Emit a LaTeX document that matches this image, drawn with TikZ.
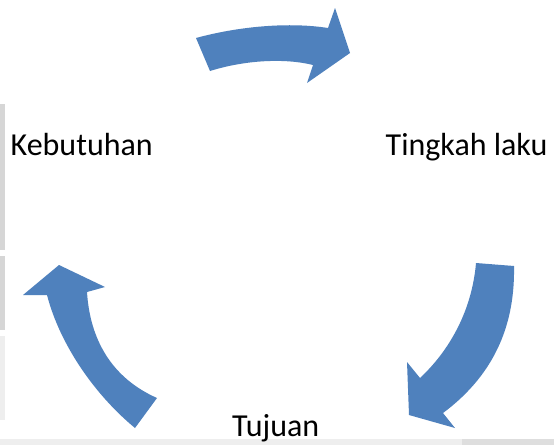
\documentclass[tikz,border=0pt]{standalone}
\usepackage{fontspec}
\setmainfont{Carlito}
\definecolor{arrowblue}{HTML}{4F81BD}
\definecolor{shadegray}{HTML}{D6D6D6}
\definecolor{shadelight}{HTML}{EEEEEE}
\begin{document}
\begin{tikzpicture}[x=1pt,y=-1pt,
  blockarrow/.style={fill=arrowblue,draw=none},
  label/.style={anchor=base west,inner sep=0pt,font=\fontsize{32}{38}\selectfont}]
\useasboundingbox (0,0) rectangle (554,445);
\fill[white] (0,0) rectangle (554,445);
% faint background artefacts
\fill[shadegray] (0,104) rectangle (5,250);
\fill[shadegray] (0,256) rectangle (5,330);
\fill[shadelight] (0,336) rectangle (5,420);
\fill[shadelight] (0,439) rectangle (554,445);
\fill[shadegray!80] (462,439) rectangle (554,445);
% top arrow
\path[blockarrow] (196,38) .. controls (240,26) and (290,22) .. (328,28)
  -- (335,8) -- (350,53) -- (307,83) -- (313,65)
  .. controls (285,58) and (245,60) .. (210,71) -- cycle;
% right arrow
\path[blockarrow] (514,266) .. controls (515,320) and (498,372) .. (443,413)
  -- (455,428) -- (409,415) -- (407,362) -- (420,378)
  .. controls (450,350) and (472,310) .. (476,263) -- cycle;
% left arrow
\path[blockarrow] (135,428) .. controls (95,395) and (60,345) .. (47,295)
  -- (23,295) -- (59,265) -- (105,287) -- (87,292)
  .. controls (90,340) and (112,378) .. (157,398) -- cycle;
% labels
\node[label] (keb) at (10.5,155.7) {Kebutuhan};
\node[label] (ting) at (385.5,155.7) {Tingkah laku};
\node[label] (tuj) at (232,436.7) {Tujuan};
\end{tikzpicture}
\end{document}
